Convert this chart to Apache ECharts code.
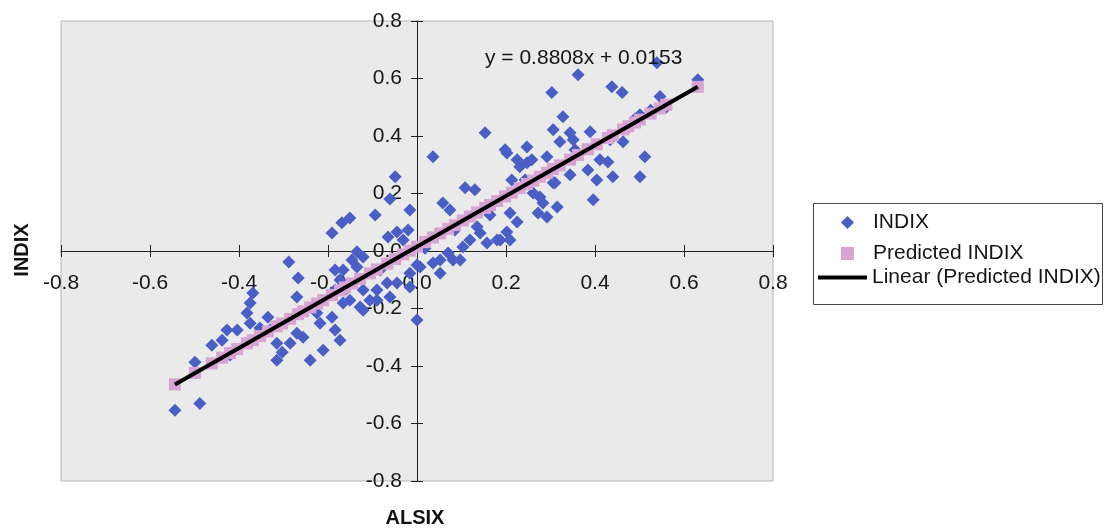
<!DOCTYPE html>
<html><head><meta charset="utf-8">
<script src="https://cdn.jsdelivr.net/npm/echarts@6/dist/echarts.min.js"></script>
<style>html,body{margin:0;padding:0;background:#fff}#c{width:1106px;height:528px}</style>
</head><body><div id="c"></div>
<script>
// ALSIX (x) and INDIX (y) observations
const alsix = [-0.544,-0.488,-0.499,-0.438,-0.427,-0.404,-0.461,-0.382,-0.375,-0.369,-0.375,-0.335,-0.353,-0.315,-0.303,-0.315,-0.285,-0.270,-0.256,-0.240,
 -0.211,-0.184,-0.173,-0.218,-0.191,-0.225,-0.270,-0.267,-0.288,-0.184,-0.173,-0.166,-0.191,-0.169,-0.151,-0.094,-0.061,-0.049,-0.016,0.036,
 -0.135,-0.121,-0.146,-0.135,-0.065,-0.045,-0.020,0.000,-0.016,-0.045,-0.016,-0.090,-0.128,-0.166,-0.184,-0.121,-0.106,-0.090,-0.067,-0.061,
 -0.121,-0.151,0.000,0.052,0.070,0.097,0.119,0.142,0.180,0.058,0.074,0.108,0.130,0.007,0.036,0.052,0.081,0.103,0.135,0.157,
 0.202,0.225,0.247,0.231,0.292,0.213,0.261,0.283,0.292,0.272,0.306,0.209,0.225,0.202,0.187,0.209,0.153,0.198,0.247,0.258,
 0.328,0.306,0.344,0.321,0.351,0.389,0.362,0.303,0.438,0.461,0.539,0.546,0.463,0.512,0.501,0.411,0.429,0.384,0.404,0.440,
 0.344,0.310,0.396,0.276,0.315,0.631,-0.031,-0.213,-0.162,-0.083,0.018,0.085,0.164,0.243,0.355,0.434,0.501,-0.330,-0.420,
 0.475,0.490,0.525,0.560];
const indix = [-0.554,-0.530,-0.387,-0.310,-0.275,-0.275,-0.328,-0.216,-0.181,-0.146,-0.251,-0.230,-0.268,-0.321,-0.352,-0.380,-0.321,-0.286,-0.300,-0.380,
 -0.345,-0.275,-0.310,-0.251,-0.230,-0.216,-0.160,-0.094,-0.038,-0.066,-0.101,-0.066,0.063,0.098,0.115,0.125,0.181,0.258,0.143,0.328,
 -0.003,-0.021,-0.031,-0.056,0.049,0.066,0.073,-0.049,-0.077,-0.111,-0.125,-0.171,-0.195,-0.181,-0.136,-0.136,-0.171,-0.136,-0.111,-0.160,
 -0.206,-0.171,-0.240,-0.031,-0.007,-0.031,0.038,0.063,0.038,0.167,0.143,0.220,0.213,-0.056,-0.042,-0.077,-0.031,0.014,0.084,0.028,
 0.341,0.317,0.307,0.293,0.328,0.247,0.202,0.167,0.118,0.132,0.237,0.132,0.101,0.066,0.038,0.038,0.411,0.352,0.362,0.317,
 0.467,0.422,0.411,0.380,0.387,0.415,0.613,0.551,0.571,0.551,0.655,0.537,0.380,0.328,0.258,0.317,0.310,0.282,0.247,0.258,
 0.265,0.237,0.178,0.188,0.153,0.596,0.038,-0.171,-0.136,-0.066,0.010,0.073,0.125,0.247,0.352,0.387,0.474,-0.275,-0.362,
 0.430,0.460,0.490,0.500];
// Predicted INDIX (read along the fitted band)
const predX = [-0.544,-0.499,-0.461,-0.438,-0.420,-0.404,-0.382,-0.369,-0.353,-0.335,-0.315,-0.303,-0.285,-0.267,-0.256,-0.240,-0.225,-0.211,-0.191,-0.173,
 -0.162,-0.146,-0.128,-0.106,-0.090,-0.067,-0.049,-0.031,-0.016,0.000,0.018,0.036,0.052,0.070,0.085,0.103,0.119,0.135,0.153,0.164,
 0.180,0.198,0.213,0.231,0.247,0.261,0.276,0.292,0.306,0.321,0.344,0.362,0.384,0.404,0.429,0.440,0.463,0.475,0.490,0.501,
 0.525,0.546,0.560,0.631];
const predY = [-0.464,-0.424,-0.391,-0.371,-0.355,-0.341,-0.321,-0.310,-0.296,-0.280,-0.262,-0.252,-0.236,-0.220,-0.210,-0.196,-0.183,-0.171,-0.153,-0.137,
 -0.127,-0.113,-0.097,-0.078,-0.064,-0.044,-0.028,-0.012,0.001,0.015,0.031,0.047,0.061,0.077,0.090,0.106,0.120,0.134,0.150,0.160,
 0.174,0.190,0.203,0.219,0.233,0.245,0.258,0.272,0.285,0.298,0.318,0.334,0.354,0.371,0.393,0.403,0.423,0.434,0.447,0.457,
 0.478,0.496,0.509,0.571];
// Linear trendline of Predicted INDIX
const trendX = [-0.544, 0.631];
const trendY = [-0.464, 0.571];
const equationText = 'y = 0.8808x + 0.0153';
const axisMin = -0.8, axisMax = 0.8, axisStep = 0.2;

const FONT = '"Liberation Sans", Arial, sans-serif';
const zip = (a, b) => a.map((v, i) => [v, b[i]]);
const fmt = v => v.toFixed(1);

// grid geometry
const G = {left: 61, right: 333, top: 21, bottom: 47, W: 1106, H: 528};
const gridW = G.W - G.left - G.right, gridH = G.H - G.top - G.bottom;
// axes cross at value 0, which is the middle of the symmetric range
const xOff = -gridH * (0 - axisMin) / (axisMax - axisMin);
const yOff = -gridW * (0 - axisMin) / (axisMax - axisMin);

const chart = echarts.init(document.getElementById('c'), null, {renderer: 'canvas'});
const axisCommon = {type: 'value', min: axisMin, max: axisMax, interval: axisStep, splitLine: {show: false}};
const tickStyle = {color: '#222', width: 1};
const lbl = {fontSize: 21, color: '#151515', fontFamily: FONT, formatter: fmt, showMinLabel: true, showMaxLabel: true};
chart.setOption({
  animation: false,
  backgroundColor: '#ffffff',
  grid: {left: G.left, right: G.right, top: G.top, bottom: G.bottom, show: true, backgroundColor: '#eaeaea', borderColor: '#b4b4b4', borderWidth: 1},
  xAxis: [
    Object.assign({}, axisCommon, {
      position: 'bottom', offset: xOff,
      axisLine: {onZero: false, lineStyle: {color: '#222', width: 1}},
      axisTick: {show: true, length: 6, lineStyle: tickStyle},
      axisLabel: Object.assign({margin: 22}, lbl)
    }),
    Object.assign({}, axisCommon, {
      position: 'bottom', offset: xOff,
      axisLine: {show: false, onZero: false},
      axisTick: {show: true, inside: true, length: 6, lineStyle: tickStyle},
      axisLabel: {show: false}
    })
  ],
  yAxis: [
    Object.assign({}, axisCommon, {
      position: 'left', offset: yOff,
      axisLine: {onZero: false, lineStyle: {color: '#222', width: 1}},
      axisTick: {show: true, length: 6, lineStyle: tickStyle},
      axisLabel: Object.assign({margin: 15}, lbl)
    }),
    Object.assign({}, axisCommon, {
      position: 'left', offset: yOff,
      axisLine: {show: false, onZero: false},
      axisTick: {show: true, inside: true, length: 6, lineStyle: tickStyle},
      axisLabel: {show: false}
    })
  ],
  legend: [
    {
      orient: 'vertical', left: 841, top: 212, padding: 0,
      itemWidth: 13, itemHeight: 13, itemGap: 10,
      textStyle: {fontSize: 21, color: '#151515', fontFamily: FONT, lineHeight: 20, padding: [0, 0, 0, 14]},
      data: [{name: 'INDIX', icon: 'diamond'}, {name: 'Predicted INDIX', icon: 'rect'}]
    },
    {
      orient: 'vertical', left: 818, top: 267, padding: 0,
      itemWidth: 49, itemHeight: 4,
      textStyle: {fontSize: 21, color: '#151515', fontFamily: FONT, lineHeight: 20},
      data: [{name: 'Linear (Predicted INDIX)', icon: 'rect', itemStyle: {color: '#000'}}]
    }
  ],
  series: [
    {name: 'INDIX', type: 'scatter', symbol: 'diamond', symbolSize: 13, data: zip(alsix, indix),
     itemStyle: {color: '#4a5fc6', opacity: 1}, z: 2},
    {name: 'Predicted INDIX', type: 'scatter', symbol: 'rect', symbolSize: 12, data: zip(predX, predY),
     itemStyle: {color: '#d9a3d4', opacity: 1}, z: 3},
    {name: 'Linear (Predicted INDIX)', type: 'line', symbol: 'none', data: zip(trendX, trendY),
     lineStyle: {color: '#000', width: 4}, itemStyle: {color: '#000'}, z: 4}
  ],
  graphic: [
    {type: 'rect', z: -1, shape: {x: 813.5, y: 203.5, width: 289, height: 101}, style: {fill: '#fff', stroke: '#444', lineWidth: 1}},
    {type: 'text', x: 485, y: 58, z: 10, style: {text: equationText, font: '21px ' + FONT, fill: '#151515', verticalAlign: 'middle'}},
    {type: 'text', x: 22, y: 250, rotation: Math.PI / 2, style: {text: 'INDIX', font: 'bold 20px ' + FONT, fill: '#111', align: 'center', verticalAlign: 'middle'}},
    {type: 'text', x: 415, y: 518, style: {text: 'ALSIX', font: 'bold 20px ' + FONT, fill: '#111', align: 'center', verticalAlign: 'middle'}}
  ]
});
</script>
</body></html>
